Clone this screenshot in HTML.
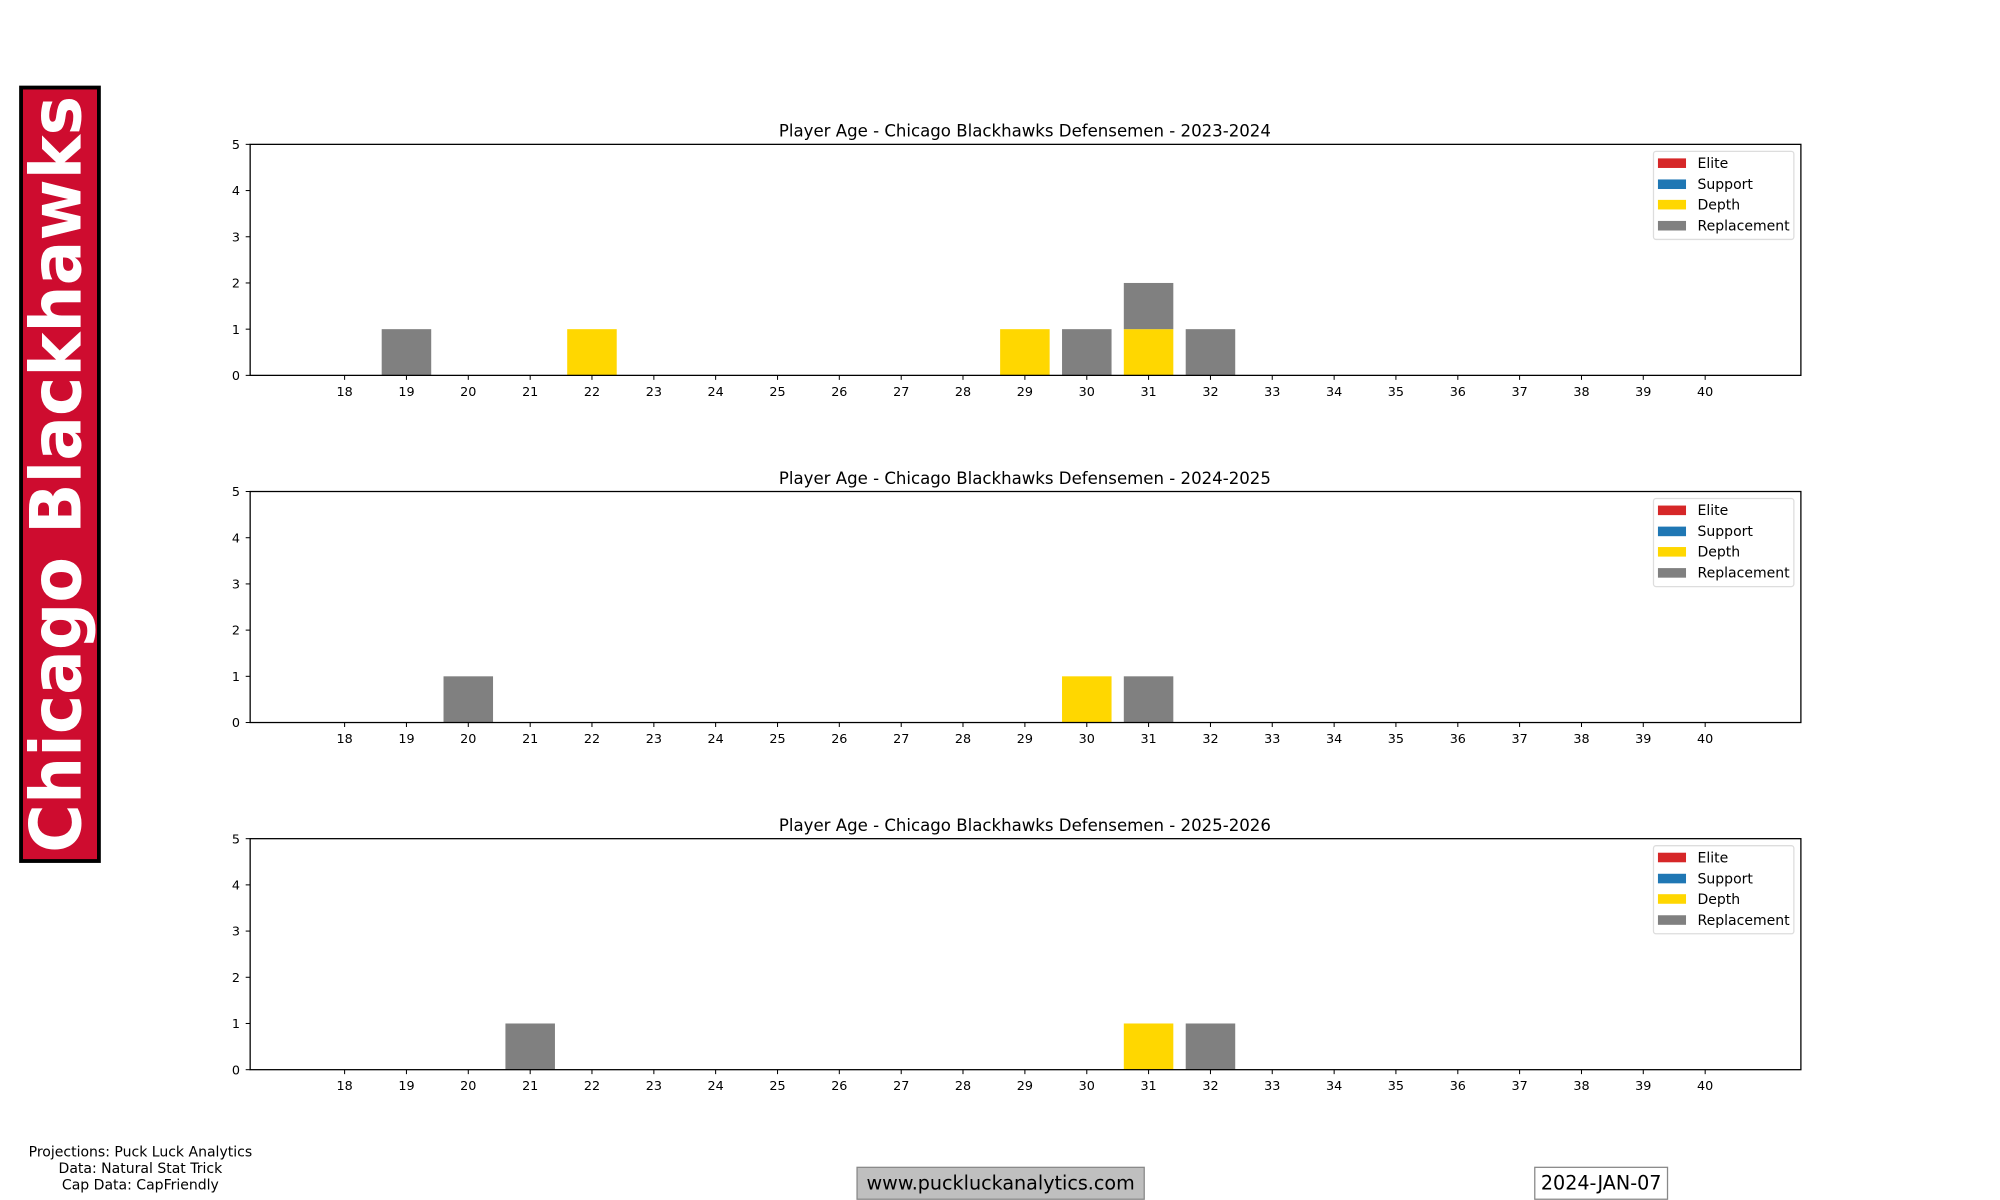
<!DOCTYPE html>
<html><head><meta charset="utf-8"><style>
html,body{margin:0;padding:0;background:#fff;}
svg{display:block;}
text{font-family:"DejaVu Sans","Liberation Sans",sans-serif;}
</style></head><body>
<svg width="2000" height="1200" viewBox="0 0 1567 940" xmlns="http://www.w3.org/2000/svg">
<rect x="0" y="0" width="1567" height="940" fill="#fff"/>
<!-- banner -->
<rect x="16.5" y="68.5" width="61" height="606" fill="#CE0C2F" stroke="#000" stroke-width="3"/>
<text transform="translate(63,668) rotate(-90)" font-size="55" font-weight="bold" fill="#fff" textLength="593" lengthAdjust="spacingAndGlyphs">Chicago Blackhawks</text>

<!-- Panel 1 -->
<g transform="translate(0,113)">
<text x="803" y="-6" font-size="13" text-anchor="middle">Player Age - Chicago Blackhawks Defensemen - 2023-2024</text>
<rect x="299.05" y="144.8" width="38.8" height="36.2" fill="#808080"/>
<rect x="444.4" y="144.8" width="38.8" height="36.2" fill="#FFD700"/>
<rect x="783.6" y="144.8" width="38.8" height="36.2" fill="#FFD700"/>
<rect x="832.1" y="144.8" width="38.8" height="36.2" fill="#808080"/>
<rect x="880.5" y="144.8" width="38.8" height="36.2" fill="#FFD700"/>
<rect x="880.5" y="108.6" width="38.8" height="36.2" fill="#808080"/>
<rect x="929" y="144.8" width="38.8" height="36.2" fill="#808080"/>
<rect x="196" y="0" width="1215" height="181" fill="none" stroke="#000" stroke-width="1"/>
<g stroke="#000" stroke-width="0.8">
<line x1="192.5" y1="0" x2="196" y2="0"/><line x1="192.5" y1="36.2" x2="196" y2="36.2"/><line x1="192.5" y1="72.4" x2="196" y2="72.4"/><line x1="192.5" y1="108.6" x2="196" y2="108.6"/><line x1="192.5" y1="144.8" x2="196" y2="144.8"/><line x1="192.5" y1="181" x2="196" y2="181"/>
<path d="M270 181v3.5M318.45 181v3.5M366.9 181v3.5M415.4 181v3.5M463.8 181v3.5M512.3 181v3.5M560.7 181v3.5M609.2 181v3.5M657.6 181v3.5M706.1 181v3.5M754.5 181v3.5M803 181v3.5M851.5 181v3.5M899.9 181v3.5M948.4 181v3.5M996.8 181v3.5M1045.3 181v3.5M1093.7 181v3.5M1142.2 181v3.5M1190.6 181v3.5M1239.1 181v3.5M1287.5 181v3.5M1336 181v3.5"/>
</g>
<g font-size="10" text-anchor="end">
<text x="188" y="3.6">5</text><text x="188" y="39.8">4</text><text x="188" y="76">3</text><text x="188" y="112.2">2</text><text x="188" y="148.4">1</text><text x="188" y="184.6">0</text>
</g>
<g font-size="10" text-anchor="middle">
<text x="270" y="197">18</text><text x="318.45" y="197">19</text><text x="366.9" y="197">20</text><text x="415.4" y="197">21</text><text x="463.8" y="197">22</text><text x="512.3" y="197">23</text><text x="560.7" y="197">24</text><text x="609.2" y="197">25</text><text x="657.6" y="197">26</text><text x="706.1" y="197">27</text><text x="754.5" y="197">28</text><text x="803" y="197">29</text><text x="851.5" y="197">30</text><text x="899.9" y="197">31</text><text x="948.4" y="197">32</text><text x="996.8" y="197">33</text><text x="1045.3" y="197">34</text><text x="1093.7" y="197">35</text><text x="1142.2" y="197">36</text><text x="1190.6" y="197">37</text><text x="1239.1" y="197">38</text><text x="1287.5" y="197">39</text><text x="1336" y="197">40</text>
</g>
<rect x="1295.5" y="5.5" width="110" height="69" rx="2" fill="#fff" stroke="#ddd" stroke-width="1"/>
<rect x="1299" y="11" width="22" height="7.5" fill="#d62728"/>
<rect x="1299" y="27.5" width="22" height="7.5" fill="#1f77b4"/>
<rect x="1299" y="43.5" width="22" height="7.5" fill="#FFD700"/>
<rect x="1299" y="60" width="22" height="7.5" fill="#808080"/>
<g font-size="11"><text x="1330" y="18.5">Elite</text><text x="1330" y="35">Support</text><text x="1330" y="51">Depth</text><text x="1330" y="67.5">Replacement</text></g>
</g>

<!-- Panel 2 -->
<g transform="translate(0,385)">
<text x="803" y="-6" font-size="13" text-anchor="middle">Player Age - Chicago Blackhawks Defensemen - 2024-2025</text>
<rect x="347.5" y="144.8" width="38.8" height="36.2" fill="#808080"/>
<rect x="832.1" y="144.8" width="38.8" height="36.2" fill="#FFD700"/>
<rect x="880.5" y="144.8" width="38.8" height="36.2" fill="#808080"/>
<rect x="196" y="0" width="1215" height="181" fill="none" stroke="#000" stroke-width="1"/>
<g stroke="#000" stroke-width="0.8">
<line x1="192.5" y1="0" x2="196" y2="0"/><line x1="192.5" y1="36.2" x2="196" y2="36.2"/><line x1="192.5" y1="72.4" x2="196" y2="72.4"/><line x1="192.5" y1="108.6" x2="196" y2="108.6"/><line x1="192.5" y1="144.8" x2="196" y2="144.8"/><line x1="192.5" y1="181" x2="196" y2="181"/>
<path d="M270 181v3.5M318.45 181v3.5M366.9 181v3.5M415.4 181v3.5M463.8 181v3.5M512.3 181v3.5M560.7 181v3.5M609.2 181v3.5M657.6 181v3.5M706.1 181v3.5M754.5 181v3.5M803 181v3.5M851.5 181v3.5M899.9 181v3.5M948.4 181v3.5M996.8 181v3.5M1045.3 181v3.5M1093.7 181v3.5M1142.2 181v3.5M1190.6 181v3.5M1239.1 181v3.5M1287.5 181v3.5M1336 181v3.5"/>
</g>
<g font-size="10" text-anchor="end">
<text x="188" y="3.6">5</text><text x="188" y="39.8">4</text><text x="188" y="76">3</text><text x="188" y="112.2">2</text><text x="188" y="148.4">1</text><text x="188" y="184.6">0</text>
</g>
<g font-size="10" text-anchor="middle">
<text x="270" y="197">18</text><text x="318.45" y="197">19</text><text x="366.9" y="197">20</text><text x="415.4" y="197">21</text><text x="463.8" y="197">22</text><text x="512.3" y="197">23</text><text x="560.7" y="197">24</text><text x="609.2" y="197">25</text><text x="657.6" y="197">26</text><text x="706.1" y="197">27</text><text x="754.5" y="197">28</text><text x="803" y="197">29</text><text x="851.5" y="197">30</text><text x="899.9" y="197">31</text><text x="948.4" y="197">32</text><text x="996.8" y="197">33</text><text x="1045.3" y="197">34</text><text x="1093.7" y="197">35</text><text x="1142.2" y="197">36</text><text x="1190.6" y="197">37</text><text x="1239.1" y="197">38</text><text x="1287.5" y="197">39</text><text x="1336" y="197">40</text>
</g>
<rect x="1295.5" y="5.5" width="110" height="69" rx="2" fill="#fff" stroke="#ddd" stroke-width="1"/>
<rect x="1299" y="11" width="22" height="7.5" fill="#d62728"/>
<rect x="1299" y="27.5" width="22" height="7.5" fill="#1f77b4"/>
<rect x="1299" y="43.5" width="22" height="7.5" fill="#FFD700"/>
<rect x="1299" y="60" width="22" height="7.5" fill="#808080"/>
<g font-size="11"><text x="1330" y="18.5">Elite</text><text x="1330" y="35">Support</text><text x="1330" y="51">Depth</text><text x="1330" y="67.5">Replacement</text></g>
</g>

<!-- Panel 3 -->
<g transform="translate(0,657)">
<text x="803" y="-6" font-size="13" text-anchor="middle">Player Age - Chicago Blackhawks Defensemen - 2025-2026</text>
<rect x="396" y="144.8" width="38.8" height="36.2" fill="#808080"/>
<rect x="880.5" y="144.8" width="38.8" height="36.2" fill="#FFD700"/>
<rect x="929" y="144.8" width="38.8" height="36.2" fill="#808080"/>
<rect x="196" y="0" width="1215" height="181" fill="none" stroke="#000" stroke-width="1"/>
<g stroke="#000" stroke-width="0.8">
<line x1="192.5" y1="0" x2="196" y2="0"/><line x1="192.5" y1="36.2" x2="196" y2="36.2"/><line x1="192.5" y1="72.4" x2="196" y2="72.4"/><line x1="192.5" y1="108.6" x2="196" y2="108.6"/><line x1="192.5" y1="144.8" x2="196" y2="144.8"/><line x1="192.5" y1="181" x2="196" y2="181"/>
<path d="M270 181v3.5M318.45 181v3.5M366.9 181v3.5M415.4 181v3.5M463.8 181v3.5M512.3 181v3.5M560.7 181v3.5M609.2 181v3.5M657.6 181v3.5M706.1 181v3.5M754.5 181v3.5M803 181v3.5M851.5 181v3.5M899.9 181v3.5M948.4 181v3.5M996.8 181v3.5M1045.3 181v3.5M1093.7 181v3.5M1142.2 181v3.5M1190.6 181v3.5M1239.1 181v3.5M1287.5 181v3.5M1336 181v3.5"/>
</g>
<g font-size="10" text-anchor="end">
<text x="188" y="3.6">5</text><text x="188" y="39.8">4</text><text x="188" y="76">3</text><text x="188" y="112.2">2</text><text x="188" y="148.4">1</text><text x="188" y="184.6">0</text>
</g>
<g font-size="10" text-anchor="middle">
<text x="270" y="197">18</text><text x="318.45" y="197">19</text><text x="366.9" y="197">20</text><text x="415.4" y="197">21</text><text x="463.8" y="197">22</text><text x="512.3" y="197">23</text><text x="560.7" y="197">24</text><text x="609.2" y="197">25</text><text x="657.6" y="197">26</text><text x="706.1" y="197">27</text><text x="754.5" y="197">28</text><text x="803" y="197">29</text><text x="851.5" y="197">30</text><text x="899.9" y="197">31</text><text x="948.4" y="197">32</text><text x="996.8" y="197">33</text><text x="1045.3" y="197">34</text><text x="1093.7" y="197">35</text><text x="1142.2" y="197">36</text><text x="1190.6" y="197">37</text><text x="1239.1" y="197">38</text><text x="1287.5" y="197">39</text><text x="1336" y="197">40</text>
</g>
<rect x="1295.5" y="5.5" width="110" height="69" rx="2" fill="#fff" stroke="#ddd" stroke-width="1"/>
<rect x="1299" y="11" width="22" height="7.5" fill="#d62728"/>
<rect x="1299" y="27.5" width="22" height="7.5" fill="#1f77b4"/>
<rect x="1299" y="43.5" width="22" height="7.5" fill="#FFD700"/>
<rect x="1299" y="60" width="22" height="7.5" fill="#808080"/>
<g font-size="11"><text x="1330" y="18.5">Elite</text><text x="1330" y="35">Support</text><text x="1330" y="51">Depth</text><text x="1330" y="67.5">Replacement</text></g>
</g>

<!-- footer -->
<g font-size="11" text-anchor="middle">
<text x="110" y="906">Projections: Puck Luck Analytics</text>
<text x="110" y="919">Data: Natural Stat Trick</text>
<text x="110" y="932">Cap Data: CapFriendly</text>
</g>
<rect x="671.5" y="914.5" width="225" height="25" fill="#bfbfbf" stroke="#888" stroke-width="1"/>
<text x="784" y="932" font-size="15" text-anchor="middle">www.puckluckanalytics.com</text>
<rect x="1202.5" y="914.5" width="104" height="25" fill="#fff" stroke="#888" stroke-width="1"/>
<text x="1254.5" y="932" font-size="15" text-anchor="middle">2024-JAN-07</text>
</svg>
</body></html>
